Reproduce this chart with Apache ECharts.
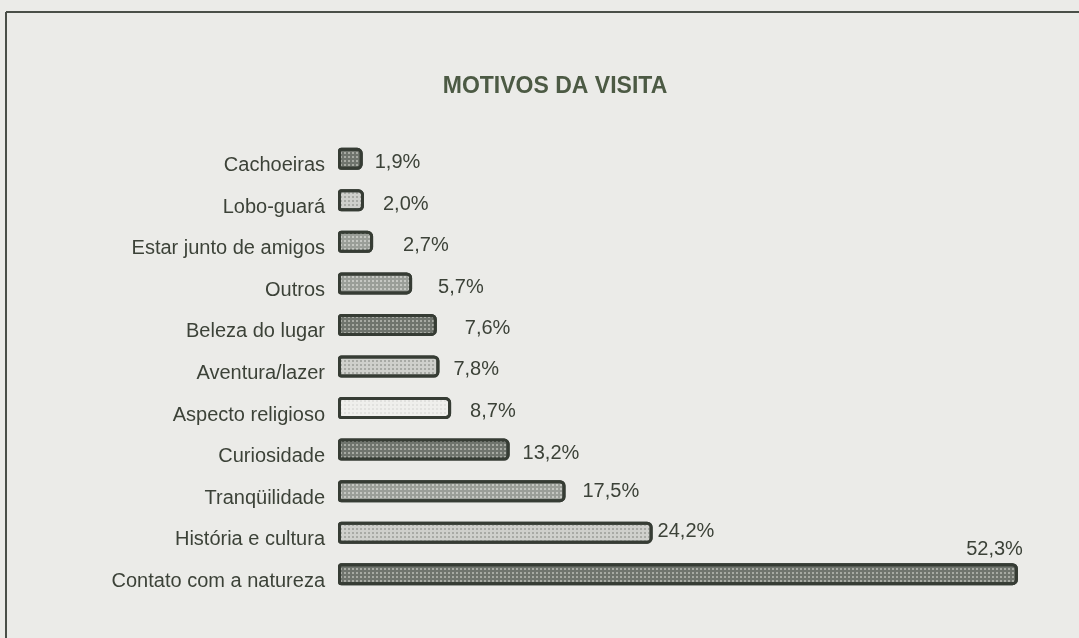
<!DOCTYPE html>
<html>
<head>
<meta charset="utf-8">
<script src="https://cdn.jsdelivr.net/npm/echarts@6/dist/echarts.min.js"></script>
<style>
html,body{margin:0;padding:0;background:#ebebe8;}
#c{width:1079px;height:638px;}
</style>
</head>
<body>
<div id="c"></div>
<script>
var categories = ["Cachoeiras","Lobo-guará","Estar junto de amigos","Outros","Beleza do lugar","Aventura/lazer","Aspecto religioso","Curiosidade","Tranqüilidade","História e cultura","Contato com a natureza"];
var values = [1.9, 2.0, 2.7, 5.7, 7.6, 7.8, 8.7, 13.2, 17.5, 24.2, 52.3];
var shades = ["dark","light","medium","medium","dark","light","white","dark","medium","light","dark"];
var labelGaps = [12, 19, 30, 26, 28, 14, 19, 13, 17, 5, 0];
var labelRaise = [4, 4, 4, 4, 4, 3, 3, 4, 0, -1, 0];

var fills = {dark:"#6f746d", medium:"#9a9e98", light:"#cfd0cc", white:"#efefec"};
var dotColors = {dark:"rgba(185,188,182,0.75)", medium:"rgba(215,217,212,0.7)", light:"rgba(120,124,118,0.45)", white:"rgba(150,150,150,0.15)"};

var chart = echarts.init(document.getElementById('c'));
var data = values.map(function(v, i){
  var s = shades[i];
  var d = {
    value: v,
    itemStyle: {
      color: fills[s],
      decal: {symbol:'rect', symbolSize:1, dashArrayX:[2,2], dashArrayY:[2,2], color: dotColors[s], rotation:0}
    },
    label: {distance: labelGaps[i], offset: [0, labelRaise[i]]}
  };
  if (i === values.length - 1) {
    d.label = {position:'insideTopRight', offset:[5,-24], distance: 0};
  }
  return d;
});

chart.setOption({
  backgroundColor: '#ebebe8',
  title: {
    text: 'MOTIVOS DA VISITA',
    left: 550, top: 70, textAlign: 'center',
    textStyle: {fontFamily:'Liberation Sans, Arial, sans-serif', fontSize:23, fontWeight:'bold', color:'#4c5a44'}
  },
  graphic: [
    {type:'line', shape:{x1:6, y1:12, x2:1079, y2:12}, style:{stroke:'#4a4f48', lineWidth:2}},
    {type:'line', shape:{x1:6, y1:12, x2:6, y2:638}, style:{stroke:'#4a4f48', lineWidth:2}}
  ],
  grid: {left:338, right:26, top:138, bottom:43, containLabel:false},
  xAxis: {type:'value', min:0, max:55, show:false},
  yAxis: {
    type:'category', data: categories, inverse:true,
    axisLine:{show:false}, axisTick:{show:false},
    axisLabel:{margin:13, fontFamily:'Liberation Sans, Arial, sans-serif', fontSize:20, color:'#3c4238',
      formatter:function(v){ return '{a|' + v + '}'; },
      rich:{a:{fontFamily:'Liberation Sans, Arial, sans-serif', fontSize:20, color:'#3c4238', padding:[14,0,0,0]}}}
  },
  series: [{
    type:'bar', data:data, barWidth:22,
    itemStyle:{borderColor:'#363c34', borderWidth:3, borderRadius:[2,4,4,2]},
    label:{show:true, position:'right', fontFamily:'Liberation Sans, Arial, sans-serif', fontSize:20, color:'#3c4238',
      formatter:function(p){ return p.value.toFixed(1).replace('.', ',') + '%'; }},
    animation:false
  }],
  animation:false
});
</script>
</body>
</html>
